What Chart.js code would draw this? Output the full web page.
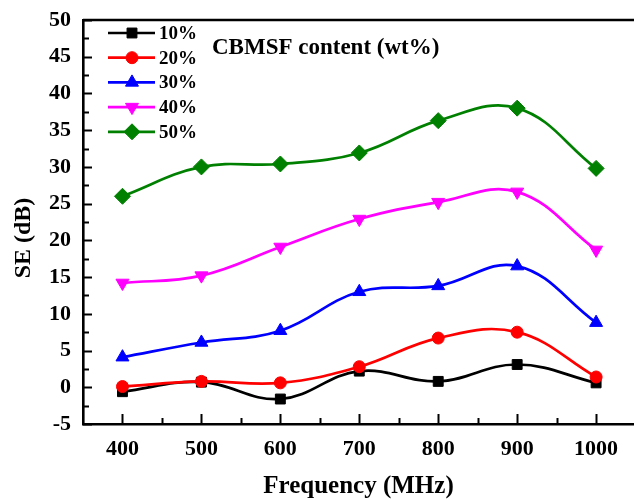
<!DOCTYPE html>
<html>
<head>
<meta charset="utf-8">
<script src="https://cdn.jsdelivr.net/npm/chart.js@4.4.1/dist/chart.umd.min.js"></script>
<style>
  html, body { margin: 0; padding: 0; background: #fff; overflow: hidden; }
  #wrap { width: 634px; height: 500px; }
</style>
</head>
<body>
<div id="wrap"><canvas id="seChart" width="634" height="500"></canvas></div>
<script>
const frequencies = [400, 500, 600, 700, 800, 900, 1000];
const xTicks = [400, 500, 600, 700, 800, 900, 1000];
const yTicks = [-5, 0, 5, 10, 15, 20, 25, 30, 35, 40, 45, 50];

const se10 = [-0.6, 0.7, -1.6, 2.2, 0.8, 3.1, 0.6];
const se20 = [0.1, 0.8, 0.6, 2.8, 6.7, 7.5, 1.4];
const se30 = [4.1, 6.1, 7.7, 13.0, 13.8, 16.5, 8.8];
const se40 = [14.2, 15.2, 19.1, 22.9, 25.2, 26.6, 18.7];
const se50 = [26.0, 30.0, 30.4, 31.9, 36.3, 38.0, 29.8];

const seriesLabels = ["10%", "20%", "30%", "40%", "50%"];
const legendTitle = "CBMSF content (wt%)";

const serif = "'Liberation Serif', 'Times New Roman', serif";

function makeSet(label, values, color, style, radius, rotation, order){
  return {
    label,
    data: frequencies.map((f, i) => ({ x: f, y: values[i] })),
    borderColor: color,
    backgroundColor: color,
    pointBackgroundColor: color,
    pointBorderColor: color,
    pointBorderWidth: 1,
    pointStyle: style,
    pointRadius: radius,
    pointRotation: rotation,
    borderWidth: 2.7,
    tension: 0.4,
    order,
  };
}

const datasets = [
  makeSet(seriesLabels[0], se10, "#000000", "rect", 7, 0, 5),
  makeSet(seriesLabels[1], se20, "#FF0000", "circle", 6, 0, 4),
  makeSet(seriesLabels[2], se30, "#0000FF", "triangle", 7.5, 0, 3),
  makeSet(seriesLabels[3], se40, "#FF00FF", "triangle", 7.5, 180, 2),
  makeSet(seriesLabels[4], se50, "#008000", "rectRot", 8, 0, 1),
];

// axes ticks pointing inward, top border, legend box and y title
const decorations = {
  id: "decorations",
  afterDraw(chart){
    const { ctx, chartArea: a, scales: { x, y } } = chart;
    ctx.save();
    ctx.strokeStyle = "#000";
    ctx.lineWidth = 2;

    // x ticks: major every 100, minor every 50
    for (let f = 400; f <= 1000; f += 50) {
      const px = Math.round(x.getPixelForValue(f)) + 0.5;
      const len = f % 100 === 0 ? 10 : 6;
      ctx.beginPath(); ctx.moveTo(px, a.bottom); ctx.lineTo(px, a.bottom - len); ctx.stroke();
    }
    // y ticks: major every 5, minor every 2.5
    for (let v = -5; v <= 50; v += 2.5) {
      const py = Math.round(y.getPixelForValue(v)) + 0.5;
      const len = v % 5 === 0 ? 9 : 6;
      ctx.beginPath(); ctx.moveTo(a.left, py); ctx.lineTo(a.left + len, py); ctx.stroke();
    }
    ctx.lineWidth = 2.6;
    ctx.beginPath(); ctx.moveTo(a.left, a.top); ctx.lineTo(chart.width, a.top); ctx.stroke();

    // legend: line + marker + label
    const drawPoint = Chart.helpers && Chart.helpers.drawPoint;
    chart.data.datasets.forEach((ds, i) => {
      const ry = 33 + i * 24.7;
      ctx.strokeStyle = ds.borderColor;
      ctx.fillStyle = ds.backgroundColor;
      ctx.lineWidth = 2.7;
      ctx.beginPath(); ctx.moveTo(108, ry); ctx.lineTo(155, ry); ctx.stroke();
      if (drawPoint) {
        ctx.lineWidth = 1;
        drawPoint(ctx, { pointStyle: ds.pointStyle, radius: ds.pointRadius, rotation: ds.pointRotation, borderWidth: 1 }, 132, ry);
      }
      ctx.fillStyle = "#000";
      ctx.font = `bold 19px ${serif}`;
      ctx.textAlign = "left";
      ctx.textBaseline = "middle";
      ctx.fillText(ds.label, 159, ry + 1);
    });

    ctx.fillStyle = "#000";
    ctx.font = `bold 23px ${serif}`;
    ctx.textAlign = "left";
    ctx.textBaseline = "alphabetic";
    ctx.fillText(legendTitle, 212, 54);

    // y title
    ctx.translate(24, 238);
    ctx.rotate(-Math.PI / 2);
    ctx.font = `bold 24px ${serif}`;
    ctx.textAlign = "center";
    ctx.textBaseline = "middle";
    ctx.fillText("SE (dB)", 0, 0);
    ctx.restore();
  }
};

new Chart(document.getElementById("seChart"), {
  type: "line",
  data: { datasets },
  options: {
    responsive: false,
    animation: false,
    events: [],
    layout: { autoPadding: false, padding: { top: 20, left: 0, right: 0, bottom: 0 } },
    plugins: { legend: { display: false }, tooltip: { enabled: false } },
    scales: {
      x: {
        type: "linear",
        min: 350,
        max: 1048,
        afterBuildTicks: s => { s.ticks = xTicks.map(v => ({ value: v })); },
        afterFit: s => { s.height = 76; },
        grid: { display: false },
        border: { display: true, color: "#000", width: 2.6 },
        ticks: { color: "#000", padding: 4, maxRotation: 0, callback: v => String(v), font: { family: serif, size: 22, weight: "bold" } },
        title: { display: true, text: "Frequency (MHz)", color: "#000", padding: { top: 4, bottom: -2 }, font: { family: serif, size: 25, weight: "bold" } },
      },
      y: {
        min: -5,
        max: 50,
        afterBuildTicks: s => { s.ticks = yTicks.map(v => ({ value: v })); },
        afterFit: s => { s.width = 83; },
        grid: { display: false },
        border: { display: true, color: "#000", width: 2.6 },
        ticks: { color: "#000", padding: 4, callback: v => String(v), font: { family: serif, size: 22, weight: "bold" } },
      },
    },
  },
  plugins: [decorations],
});
</script>
</body>
</html>
